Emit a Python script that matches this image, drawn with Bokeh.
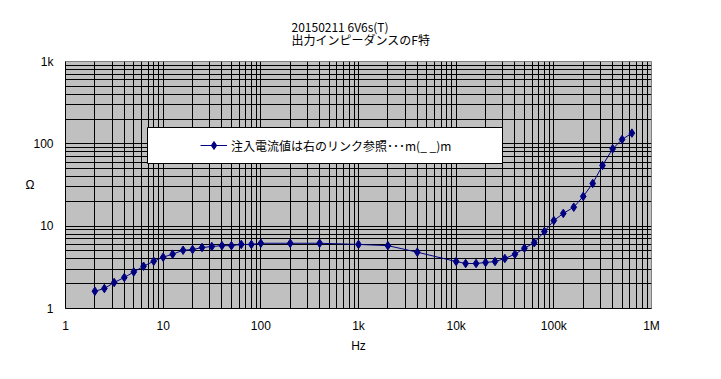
from bokeh.plotting import figure
from bokeh.models import (FixedTicker, CustomJSTickFormatter, Legend, LegendItem,
                          BoxAnnotation, Title)
from bokeh.embed import file_html
from bokeh.resources import INLINE

# ---- data ----
freq_hz = [2, 2.5, 3.15, 4, 5, 6.3, 8, 10, 12.5, 16, 20, 25, 31.5, 40, 50, 63, 80, 100,
           200, 400, 1000, 2000, 4000, 10000, 12500, 16000, 20000, 25000, 31500, 40000,
           50000, 63000, 80000, 100000, 125000, 160000, 200000, 250000, 315000, 400000,
           500000, 630000]
impedance_ohm = [1.62, 1.75, 2.07, 2.38, 2.78, 3.26, 3.75, 4.2, 4.57, 5.1, 5.2, 5.5, 5.66,
                 5.8, 5.8, 6.0, 6.0, 6.2, 6.2, 6.2, 6.0, 5.8, 4.83, 3.72, 3.52, 3.52, 3.62,
                 3.72, 4.05, 4.57, 5.4, 6.3, 8.6, 11.7, 14.3, 17.0, 23.0, 33.0, 54.6, 86.9,
                 113.0, 135.0]

x_tick_values = [1, 10, 100, 1000, 10000, 100000, 1000000]
x_tick_labels = ["1", "10", "100", "1k", "10k", "100k", "1M"]
y_tick_values = [1, 10, 100, 1000]
y_tick_labels = ["1", "10", "100", "1k"]

title_line1 = "20150211 6V6s(T)"
title_line2 = "出力インピーダンスのF特"
legend_label = "注入電流値は右のリンク参照･･･m(_ _)m"
x_label = "Hz"
y_label = "Ω"

JP = "Noto Sans CJK JP"
LAT = "Liberation Sans"
NAVY = "#000080"

p = figure(width=705, height=363, x_axis_type="log", y_axis_type="log",
           x_range=(1, 1e6), y_range=(1, 1000),
           output_backend="svg", toolbar_location=None,
           min_border_left=65, min_border_right=54, min_border_top=61, min_border_bottom=55)
p.title.visible = False

title = Title(text=title_line1 + "\n" + title_line2, align="left", offset=226, standoff=26,
              text_line_height=0.8,
              text_font=JP, text_font_size="12px", text_font_style="normal", text_color="black")
p.add_layout(title, "above")

p.background_fill_color = "#C0C0C0"
p.border_fill_color = "white"
p.outline_line_color = "#808080"

def minor_of(decades):
    return [m * 10 ** d for d in decades for m in range(2, 10)]

xt = FixedTicker(ticks=x_tick_values, minor_ticks=minor_of(range(0, 6)))
yt = FixedTicker(ticks=y_tick_values, minor_ticks=minor_of(range(0, 3)))
p.xaxis.ticker = xt
p.yaxis.ticker = yt
p.xgrid.ticker = xt
p.ygrid.ticker = yt

fmt_code = """
for (let i = 0; i < vals.length; i++) {
  if (Math.abs(vals[i] - tick) < 1e-6 * vals[i]) return labs[i];
}
return "";
"""
p.xaxis.formatter = CustomJSTickFormatter(args=dict(vals=x_tick_values, labs=x_tick_labels), code=fmt_code)
p.yaxis.formatter = CustomJSTickFormatter(args=dict(vals=y_tick_values, labs=y_tick_labels), code=fmt_code)

for g in (p.xgrid, p.ygrid):
    g.grid_line_color = "black"
    g.grid_line_width = 1
    g.minor_grid_line_color = "black"
    g.minor_grid_line_width = 1

for ax in (p.xaxis, p.yaxis):
    ax.axis_line_color = "black"
    ax.major_tick_out = 0
    ax.major_tick_in = 0
    ax.minor_tick_out = 0
    ax.minor_tick_in = 0
    ax.major_label_text_font = LAT
    ax.major_label_text_font_size = "12px"
    ax.major_label_text_color = "black"
    ax.axis_label_text_font = LAT
    ax.axis_label_text_font_size = "12px"
    ax.axis_label_text_font_style = "normal"
    ax.axis_label_text_color = "black"

p.xaxis.axis_label = x_label
p.yaxis.axis_label = y_label
p.xaxis.major_label_standoff = 10
p.xaxis.axis_label_standoff = 3
p.yaxis.major_label_standoff = 12
p.yaxis.axis_label_standoff = -4
try:
    p.yaxis.axis_label_orientation = "horizontal"
except Exception:
    pass

line_r = p.line(freq_hz, impedance_ohm, line_color=NAVY, line_width=1)
pts_r = p.scatter(freq_hz, impedance_ohm, marker="diamond", size=8.5,
                  fill_color=NAVY, line_color=NAVY)

box = BoxAnnotation(left=82, right=437, bottom=145, top=181,
                    left_units="screen", right_units="screen",
                    bottom_units="screen", top_units="screen",
                    fill_color="white", fill_alpha=1, line_color="black",
                    line_width=1, line_alpha=1, line_dash="solid")
p.add_layout(box)

legend = Legend(items=[LegendItem(label=legend_label, renderers=[line_r, pts_r])],
                location=(130, 148), padding=5, spacing=0,
                glyph_width=27, glyph_height=20, label_standoff=4,
                label_text_font=JP, label_text_font_size="12px", label_text_color="black",
                border_line_alpha=0, background_fill_alpha=0)
p.add_layout(legend)

open("out.html", "w").write(file_html(p, INLINE))
